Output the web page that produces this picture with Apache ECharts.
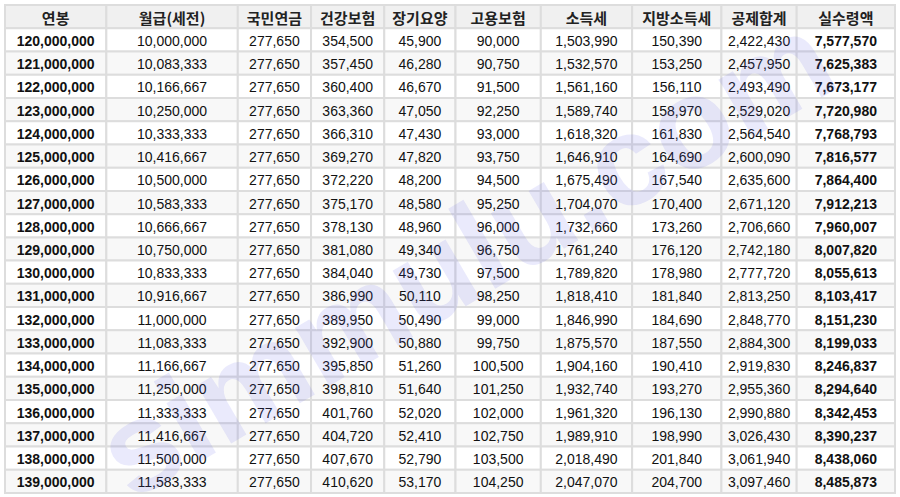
<!DOCTYPE html>
<html><head><meta charset="utf-8">
<script src="https://cdn.jsdelivr.net/npm/echarts@6/dist/echarts.min.js"></script>
<style>html,body{margin:0;padding:0;background:#fff}#c{width:900px;height:497px}</style>
</head><body><div id="c"></div>
<script>
const headers = ['연봉','월급(세전)','국민연금','건강보험','장기요양','고용보험','소득세','지방소득세','공제합계','실수령액'];
const annual = [120000000,121000000,122000000,123000000,124000000,125000000,126000000,127000000,128000000,129000000,130000000,131000000,132000000,133000000,134000000,135000000,136000000,137000000,138000000,139000000];
const monthly = [10000000,10083333,10166667,10250000,10333333,10416667,10500000,10583333,10666667,10750000,10833333,10916667,11000000,11083333,11166667,11250000,11333333,11416667,11500000,11583333];
const pension = [277650,277650,277650,277650,277650,277650,277650,277650,277650,277650,277650,277650,277650,277650,277650,277650,277650,277650,277650,277650];
const health = [354500,357450,360400,363360,366310,369270,372220,375170,378130,381080,384040,386990,389950,392900,395850,398810,401760,404720,407670,410620];
const care = [45900,46280,46670,47050,47430,47820,48200,48580,48960,49340,49730,50110,50490,50880,51260,51640,52020,52410,52790,53170];
const employ = [90000,90750,91500,92250,93000,93750,94500,95250,96000,96750,97500,98250,99000,99750,100500,101250,102000,102750,103500,104250];
const incomeTax = [1503990,1532570,1561160,1589740,1618320,1646910,1675490,1704070,1732660,1761240,1789820,1818410,1846990,1875570,1904160,1932740,1961320,1989910,2018490,2047070];
const localTax = [150390,153250,156110,158970,161830,164690,167540,170400,173260,176120,178980,181840,184690,187550,190410,193270,196130,198990,201840,204700];
const deductTotal = [2422430,2457950,2493490,2529020,2564540,2600090,2635600,2671120,2706660,2742180,2777720,2813250,2848770,2884300,2919830,2955360,2990880,3026430,3061940,3097460];
const netPay = [7577570,7625383,7673177,7720980,7768793,7816577,7864400,7912213,7960007,8007820,8055613,8103417,8151230,8199033,8246837,8294640,8342453,8390237,8438060,8485873];

const columns = [annual,monthly,pension,health,care,employ,incomeTax,localTax,deductTotal,netPay];
const colWidths = [101,131,73,73,71,85,91,89,75,98];
const edges = [0]; colWidths.forEach(w=>edges.push(edges[edges.length-1]+w));
const rowCats = ['h'].concat(annual.map((_,i)=>'r'+i));
const fmt = v => v.toString().replace(/\B(?=(\d{3})+(?!\d))/g, ',');

const data = [];
headers.forEach((h,c)=>data.push([c,0,h]));
columns.forEach((col,c)=>col.forEach((v,r)=>data.push([c,r+1,fmt(v)])));

const chart = echarts.init(document.getElementById('c'), null, {renderer:'svg'});
chart.setOption({
  animation:false,
  grid:{left:5,right:5,top:5,bottom:4},
  xAxis:{type:'value',min:0,max:edges[edges.length-1],show:false},
  yAxis:{type:'category',data:rowCats,inverse:true,show:false},
  graphic:[{type:'text',z:100,x:465,y:255,rotation:0.53,
    style:{text:'simmulu.com',font:'bold 128px "Liberation Sans", Arial',fill:'rgba(90,90,230,0.13)',align:'center',verticalAlign:'middle'}}],
  series:[{type:'custom',data:data,encode:{x:0,y:1},
    renderItem:function(params,api){
      const c=api.value(0), r=api.value(1), t=data[params.dataIndex][2];
      const p0=api.coord([edges[c],r]), p1=api.coord([edges[c+1],r]);
      const h=api.size([0,1])[1];
      const x=p0[0], y=p0[1]-h/2, w=p1[0]-p0[0];
      const bold = r===0 || c===0 || c===9;
      const fill = r===0 ? '#f0f0f0' : (r%2===0 ? '#f8f8f8' : '#ffffff');
      return {type:'group',children:[
        {type:'rect',shape:{x:x,y:y,width:w,height:h},style:{fill:fill,stroke:'#dddddd',lineWidth:2}},
        {type:'text',x:x+w/2,y:y+h/2+1,style:{text:t,align:'center',verticalAlign:'middle',
          fill: r===0?'#222':'#111',
          font:(bold?'bold ':'')+(r===0?'15px "Noto Sans CJK KR", sans-serif':'14px "Liberation Sans", Arial, sans-serif')}}
      ]};
    }}]
});
</script></body></html>
